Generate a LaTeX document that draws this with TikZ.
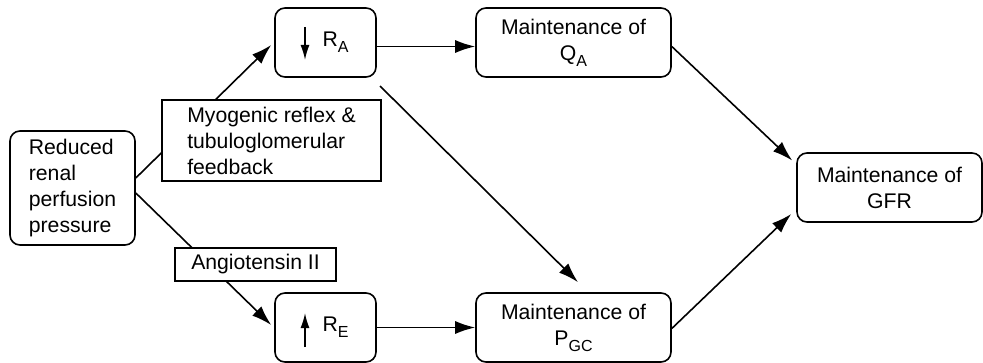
\documentclass[tikz,border=0pt]{standalone}
\usepackage{fontspec}
\setmainfont{Liberation Sans}
\usetikzlibrary{arrows.meta,calc}
\newcommand{\mysub}[1]{\raisebox{-3pt}{\fontsize{8}{9}\selectfont #1}}
\begin{document}
\begin{tikzpicture}[x=0.5pt,y=-0.5pt,
  font=\fontsize{10.6}{13}\selectfont,
  box/.style={draw,line width=0.8pt,rounded corners=5pt,inner sep=0pt,align=center},
  lab/.style={draw,line width=0.8pt,fill=white,inner sep=0pt},
  conn/.style={line width=0.8pt,-{Latex[length=10pt,width=6.5pt]}},
  smallarr/.style={line width=0.8pt,-{Latex[length=7.5pt,width=4.5pt]}}]
\useasboundingbox (0,0) rectangle (983,363);
% main boxes
\node[box,minimum width=62.5pt,minimum height=57pt,align=left] (red) at (72.5,188) {Reduced\\renal\\perfusion\\pressure};
\node[box,minimum width=50.5pt,minimum height=34.5pt] (ra) at (325.5,42.5) {\hspace*{10pt}R\mysub{A}};
\node[box,minimum width=50.5pt,minimum height=34.5pt] (re) at (325.5,327.5) {\hspace*{10pt}R\mysub{E}};
\node[box,minimum width=97.5pt,minimum height=34.5pt] (qa) at (573.5,42.5) {Maintenance of\\Q\mysub{A}};
\node[box,minimum width=97.5pt,minimum height=34.5pt] (pgc) at (573.5,327.5) {Maintenance of\\P\mysub{GC}};
\node[box,minimum width=92.5pt,minimum height=34.5pt] (gfr) at (889.5,187.5) {Maintenance of\\GFR};
% arrows inside boxes
\draw[smallarr] ($(ra.center)+(-20.5,-15.5)$) -- ($(ra.center)+(-20.5,17.5)$);
\draw[smallarr] ($(re.center)+(-20.5,19.5)$) -- ($(re.center)+(-20.5,-14.5)$);
% connectors
\coordinate (s) at (380,86);
\draw[conn] ($(red.east)+(0,-10)$) -- ($(ra.west)+(-3,2.5)$);
\draw[conn] ($(red.east)+(0,5)$) -- ($(re.west)+(-3,-2.5)$);
\draw[conn] ($(ra.east)+(0,4)$) -- ($(qa.west)+(0,4)$);
\draw[conn] (re.east) -- (pgc.west);
\draw[conn] (s) -- ($(pgc.north)+(4.5,-10)$);
\draw[conn] ($(qa.east)+(0,4)$) -- ($(gfr.west)+(-4,-27)$);
\draw[conn] ($(pgc.east)+(0,1)$) -- ($(gfr.west)+(-5,26.5)$);
% label boxes over the lines
\node[lab,minimum width=109.5pt,minimum height=40.5pt,align=left] (myo) at (271.5,140.5) {Myogenic reflex \&\\tubuloglomerular\\feedback};
\node[lab,minimum width=80.5pt,minimum height=16.5pt] (ang) at (255.5,264.5) {Angiotensin II};
\end{tikzpicture}
\end{document}
